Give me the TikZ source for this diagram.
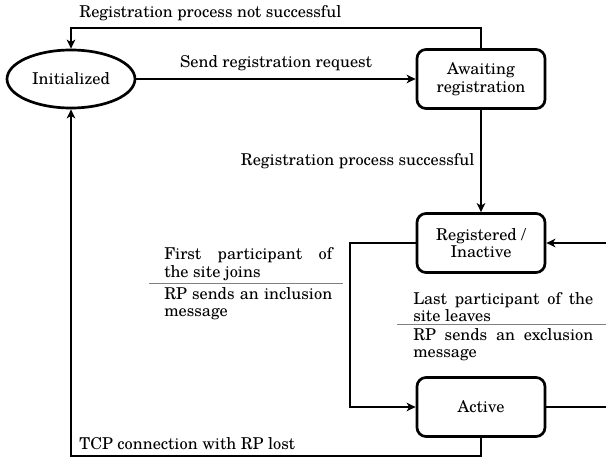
\documentclass[tikz,border=0pt]{standalone}
\usepackage{fontspec}
\setmainfont{TeX Gyre Schola}
\usetikzlibrary{arrows.meta,shapes.geometric}

\begin{document}
\begin{tikzpicture}[x=1pt,y=-1pt,line width=2.5pt,>={Stealth[length=9pt,width=8.5pt,inset=2.5pt]},
	every node/.style={font=\fontsize{16.3}{17.5}\selectfont},
	state/.style={draw,rounded corners=9pt,line width=2.7pt,minimum width=128pt,minimum height=59pt,align=center,inner sep=2pt},
	startstate/.style={draw,ellipse,line width=2.7pt,minimum width=128pt,minimum height=58pt,inner sep=1pt},
	cond/.style={text width=#1,align=justify,inner sep=0pt},
	rule/.style={line width=0.9pt,gray}]
	%\draw [help lines, lightgray] (0,0) grid[step=20] (606,460);
	\useasboundingbox (0,0) rectangle (606,460);
	\clip (0,0) rectangle (606,460);

	%% states
	\node [startstate] (init) at (71,79) {Initialized};
	\node [state] (await) at (481,79) {Awaiting\\registration};
	\node [state] (reg) at (481,243) {Registered /\\Inactive};
	\node [state] (active) at (481,407) {Active};

	\coordinate (topL) at (276,28);
	\coordinate (botL) at (276,456);
	\coordinate (joinL) at (350,325);
	\coordinate (loopR) at (630,325);

	%% transitions
	\draw[->] (init) -- node[above=4pt] {Send registration request} (await);
	\draw[->] (await.north) |- (topL) -| (init.north);
	\node [anchor=base west,inner sep=0pt] (notok) at (78,18) {Registration process not successful};
	\draw[->] (await) -- node[left=2pt] {Registration process successful} (reg);
	\draw[->] (active.south) |- (botL) -| (init.south);
	\node [anchor=base west,inner sep=0pt] (lost) at (78,449) {TCP connection with RP lost};

	%% site joins / leaves
	\draw[->] (reg.west) -| (joinL) |- (active.west);
	\draw[->] (active.east) -| (loopR) |- (reg.east);
	\node [cond=168pt,anchor=south west] (joins) at (163,282) {First participant of the site joins};
	\node [cond=168pt,anchor=north west] (incl) at (163,286) {RP sends an inclusion message};
	\draw[rule] (149,283.5) -- (343,283.5);
	\node [cond=180pt,anchor=south west] (leaves) at (412,323) {Last participant of the site leaves};
	\node [cond=180pt,anchor=north west] (excl) at (412,327) {RP sends an exclusion message};
	\draw[rule] (397,324.5) -- (606,324.5);
\end{tikzpicture}
\end{document}
